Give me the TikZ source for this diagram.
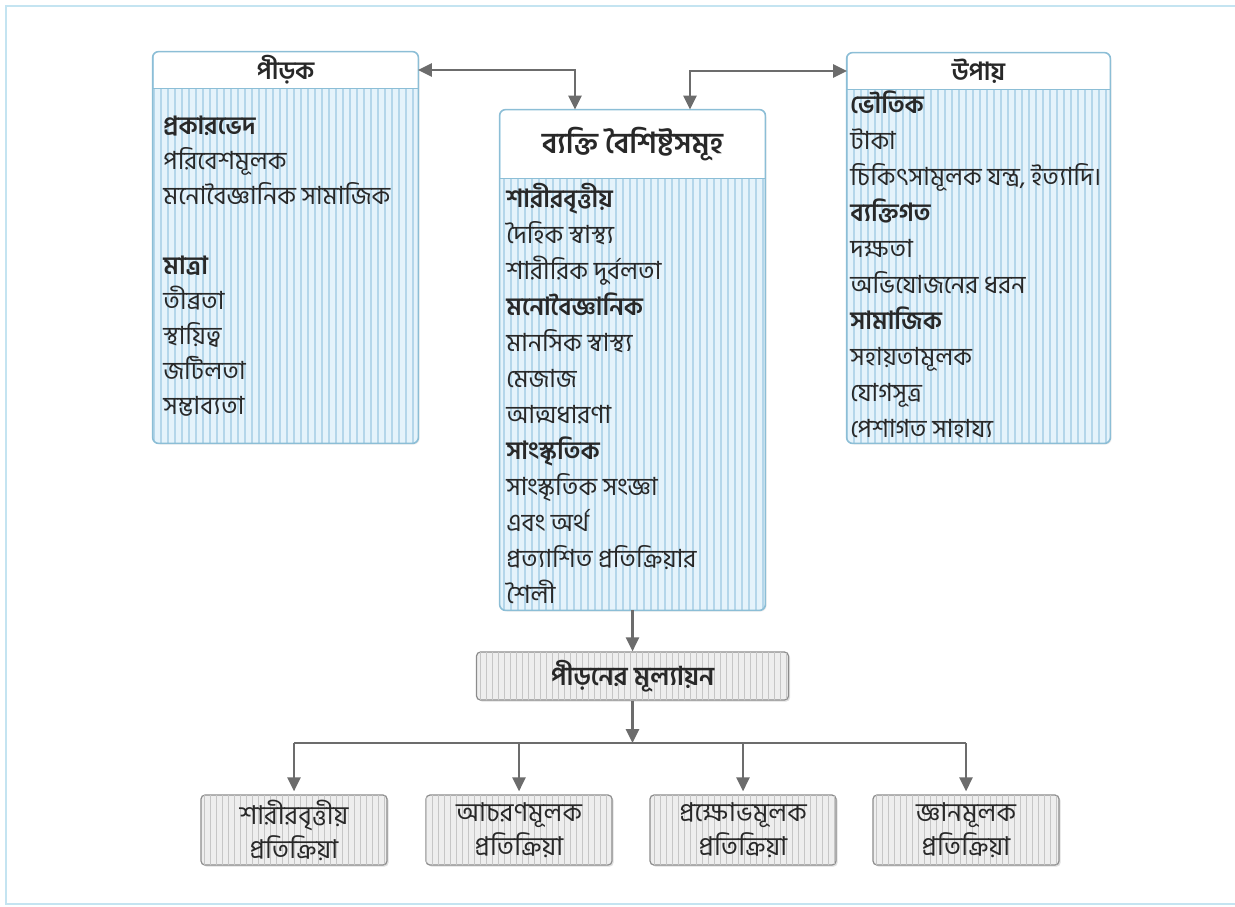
\documentclass[tikz,border=0pt]{standalone}
\usepackage{fontspec}
\newfontfamily\bn[Script=Bengali]{Hind Siliguri}
\usetikzlibrary{arrows.meta,patterns.meta,shadows}

\definecolor{frameBlue}{RGB}{196,228,241}
\definecolor{boxBlue}{RGB}{140,190,214}
\definecolor{bodyBlue}{RGB}{229,243,251}
\definecolor{stripeBlue}{RGB}{180,214,234}
\definecolor{boxGrey}{RGB}{140,140,140}
\definecolor{bodyGrey}{RGB}{238,238,238}
\definecolor{stripeGrey}{RGB}{198,198,198}
\definecolor{arrowGrey}{RGB}{108,108,108}
\definecolor{textGrey}{RGB}{40,40,40}

\begin{document}
\begin{tikzpicture}
[x=0.5pt,y=-0.5pt,text=textGrey,
  arrowDecorate/.style={-{Triangle[length=7pt,width=6.5pt]},draw=arrowGrey,line width=1.3pt},%
  biArrow/.style={{Triangle[length=7pt,width=6.5pt]}-{Triangle[length=7pt,width=6.5pt]},draw=arrowGrey,line width=1.3pt},%
  lineDecorate/.style={draw=arrowGrey,line width=1.3pt},%
  blueBody/.style={shape=rectangle,rounded corners=3pt,inner sep=0pt,fill=bodyBlue,
    drop shadow={opacity=0.15,shadow xshift=0.8pt,shadow yshift=-0.8pt},
    postaction={pattern={Lines[angle=90,distance=3.5pt,line width=0.6pt]},pattern color=stripeBlue}},%
  greyBody/.style={shape=rectangle,rounded corners=2pt,inner sep=0pt,fill=bodyGrey,draw=boxGrey,line width=0.6pt,
    drop shadow={opacity=0.25,shadow xshift=0.8pt,shadow yshift=-0.8pt},
    postaction={pattern={Lines[angle=90,distance=3pt,line width=0.5pt]},pattern color=stripeGrey},
    minimum width=93pt,minimum height=35pt,align=center,font={\bn\fontsize{13}{17}\selectfont}},%
  headBox/.style={shape=rectangle,fill=white,inner sep=0pt,anchor=north,font={\bn\bfseries\fontsize{12.5}{15}\selectfont}},%
  frameLine/.style={draw=boxBlue,line width=0.8pt,rounded corners=3pt},%
  divLine/.style={draw=boxBlue,line width=0.5pt},%
  listText/.style={anchor=north west,inner sep=0pt,align=left,font={\bn\fontsize{12.5}{18}\selectfont}}]
\useasboundingbox (0,0) rectangle (1235,906);
\draw[draw=frameBlue,line width=1.2pt] (6,6) rectangle (1250,904);

%% three upper boxes
\node[blueBody,minimum width=132.5pt,minimum height=195.5pt] (pirok) at (285.5,247.5) {};
\node[blueBody,minimum width=132.5pt,minimum height=250pt] (bekti) at (632.5,360) {};
\node[blueBody,minimum width=131.5pt,minimum height=195pt] (upay) at (978.5,248) {};
\node[headBox,minimum width=132pt,minimum height=18pt] (pirokHead) at (pirok.north) {পীড়ক};
\node[headBox,minimum width=132pt,minimum height=34pt,font={\bn\bfseries\fontsize{14.5}{17}\selectfont}] (bektiHead) at (bekti.north) {ব্যক্তি বৈশিষ্টসমূহ};
\node[headBox,minimum width=131pt,minimum height=18pt] (upayHead) at (upay.north) {উপায়};
\foreach \boxname in {pirok,bekti,upay}
  \draw[frameLine] (\boxname.north west) rectangle (\boxname.south east);
\foreach \headname in {pirokHead,bektiHead,upayHead}
  \draw[divLine] (\headname.south west) -- (\headname.south east);

%% lists
\node[listText,font={\bn\fontsize{12.5}{17.5}\selectfont}] (pirokList) at (163,116)
  {\textbf{প্রকারভেদ}\\ পরিবেশমূলক\\ মনোবৈজ্ঞানিক সামাজিক\\ \mbox{}\\ \textbf{মাত্রা}\\ তীব্রতা\\ স্থায়িত্ব\\ জটিলতা\\ সম্ভাব্যতা};
\node[listText] (bektiList) at (506,183)
  {\textbf{শারীরবৃত্তীয়}\\ দৈহিক স্বাস্থ্য\\ শারীরিক দুর্বলতা\\ \textbf{মনোবৈজ্ঞানিক}\\ মানসিক স্বাস্থ্য\\ মেজাজ\\ আত্মধারণা\\ \textbf{সাংস্কৃতিক}\\ সাংস্কৃতিক সংজ্ঞা\\ এবং অর্থ\\ প্রত্যাশিত প্রতিক্রিয়ার\\ শৈলী};
\node[listText] (upayList) at (850,90)
  {\textbf{ভৌতিক}\\ টাকা\\ চিকিৎসামূলক যন্ত্র, ইত্যাদি।\\ \textbf{ব্যক্তিগত}\\ দক্ষতা\\ অভিযোজনের ধরন\\ \textbf{সামাজিক}\\ সহায়তামূলক\\ যোগসূত্র\\ পেশাগত সাহায্য};

%% lower boxes
\node[greyBody,minimum width=156pt,minimum height=24pt,font={\bn\bfseries\fontsize{13}{15}\selectfont}] (eval) at (632.5,676) {পীড়নের মূল্যায়ন};
\foreach \nodename/\x/\txt in {
  resp1/294/{শারীরবৃত্তীয়\\প্রতিক্রিয়া}, resp2/519/{আচরণমূলক\\প্রতিক্রিয়া},
  resp3/743/{প্রক্ষোভমূলক\\প্রতিক্রিয়া}, resp4/966/{জ্ঞানমূলক\\প্রতিক্রিয়া}}
{
  \node[greyBody] (\nodename) at (\x,830) {\txt};
}

%% connectors
\draw[biArrow] (pirokHead.east) -| ([xshift=-28.75pt]bekti.north);
\draw[biArrow] (upayHead.west) -| ([xshift=28.75pt]bekti.north);
\draw[arrowDecorate] (bekti.south) -- (eval.north);
\coordinate (split) at (632.5,743);
\draw[arrowDecorate] (eval.south) -- (split);
\draw[lineDecorate] (resp1.north |- split) -- (resp4.north |- split);
\foreach \n in {1,...,4}
  \draw[arrowDecorate] (resp\n.north |- split) -- ([yshift=1.5pt]resp\n.north);
\end{tikzpicture}
\end{document}
